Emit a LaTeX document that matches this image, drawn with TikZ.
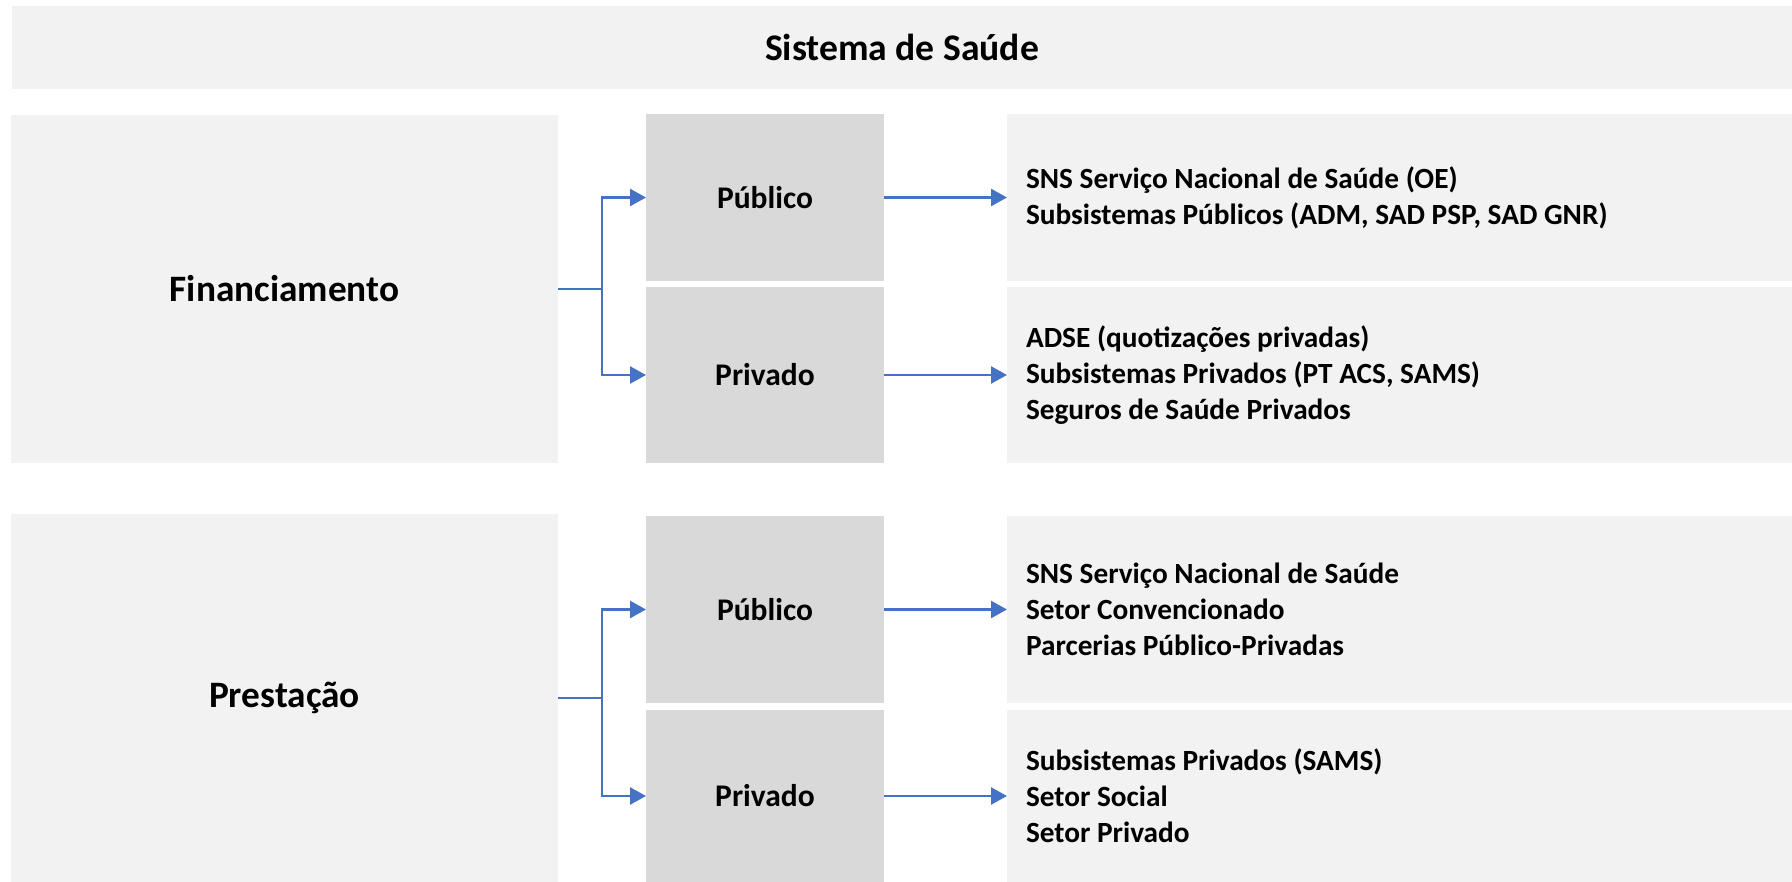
\documentclass[tikz,border=0pt]{standalone}
\usepackage{fontspec}
\setmainfont{Carlito}
\usetikzlibrary{arrows.meta}
\definecolor{lightbox}{HTML}{F2F2F2}
\definecolor{midbox}{HTML}{D9D9D9}
\definecolor{connblue}{HTML}{4472C4}
\newcommand\mylistfont{\fontsize{29.3}{35.9}\selectfont\bfseries}
\newcommand\natsp{\spaceskip=0pt\xspaceskip=0pt\relax}
\tikzset{
  base/.style={rectangle, inner sep=0pt, outer sep=0pt, draw=none, text=black},
  titlebox/.style={base, fill=lightbox, font=\fontsize{37.6}{45}\selectfont\bfseries},
  leftbox/.style={base, fill=lightbox, minimum width=547pt, font=\fontsize{37.3}{45}\selectfont\bfseries},
  midnode/.style={base, fill=midbox, minimum width=238pt, font=\fontsize{31.5}{38}\selectfont\bfseries},
  listbox/.style={base, fill=lightbox, inner xsep=19pt, text width=747pt, align=left,
                  font=\mylistfont},
  conn/.style={draw=connblue, line width=2.6pt, line join=miter},
  connarrow/.style={conn, -{Triangle[length=16pt, width=17pt]}}
}
\begin{document}
\begin{tikzpicture}[x=1pt, y=-1pt]
\useasboundingbox (0,0) rectangle (1792,882);
\fill[white] (0,0) rectangle (1792,882);

% title
\node[titlebox, minimum width=1780pt, minimum height=83pt] (title) at (902,47.5) {Sistema de Saúde};

% Financiamento group
\node[leftbox, minimum height=348pt] (fin) at (284.5,289) {Financiamento};
\node[midnode, minimum height=167pt] (pub1) at (765,197.5) {Público};
\node[midnode, minimum height=176pt] (pri1) at (765,375) {Privado};
\node[listbox, minimum height=167pt] (r1) at (1399.5,197.5) {\natsp SNS Serviço Nacional de Saúde (OE)\\Subsistemas Públicos (ADM, SAD PSP, SAD GNR)};
\node[listbox, minimum height=176pt] (r2) at (1399.5,375) {\natsp ADSE (quotizações privadas)\\Subsistemas Privados (PT ACS, SAMS)\\Seguros de Saúde Privados};

% Prestacao group
\node[leftbox, minimum height=368pt] (pre) at (284.5,698) {Prestação};
\node[midnode, minimum height=187pt] (pub2) at (765,609.5) {Público};
\node[midnode, minimum height=172pt] (pri2) at (765,796) {Privado};
\node[listbox, minimum height=187pt] (r3) at (1399.5,609.5) {\natsp SNS Serviço Nacional de Saúde\\Setor Convencionado\\Parcerias Público-Privadas};
\node[listbox, minimum height=172pt] (r4) at (1399.5,796) {\natsp Subsistemas Privados (SAMS)\\Setor Social\\Setor Privado};

% connectors Financiamento
\draw[conn] (fin.east) -- ++(45,0) coordinate (b1);
\coordinate (b1v) at ([xshift=44pt]fin.east);
\draw[connarrow] (b1v) |- (pub1.west);
\draw[connarrow] (b1v) |- (pri1.west);
\draw[connarrow] (pub1.east) -- (r1.west);
\draw[connarrow] (pri1.east) -- (r2.west);

% connectors Prestacao
\draw[conn] (pre.east) -- ++(45,0) coordinate (b2);
\coordinate (b2v) at ([xshift=44pt]pre.east);
\draw[connarrow] (b2v) |- (pub2.west);
\draw[connarrow] (b2v) |- (pri2.west);
\draw[connarrow] (pub2.east) -- (r3.west);
\draw[connarrow] (pri2.east) -- (r4.west);
\end{tikzpicture}
\end{document}
